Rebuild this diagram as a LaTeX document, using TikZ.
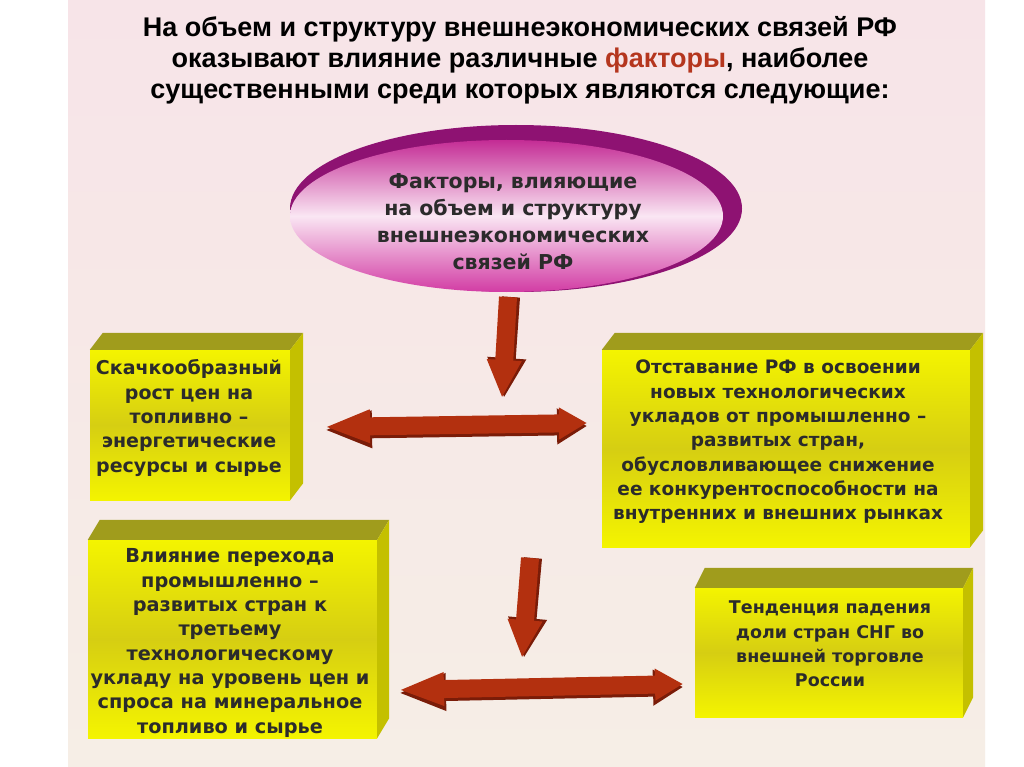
\documentclass[tikz,border=0pt]{standalone}
\usepackage{fontspec}
\setmainfont{DejaVu Sans}
\newfontfamily\titlefont{Liberation Sans}
\usetikzlibrary{shapes.geometric,arrows.meta,calc}
\definecolor{slidetop}{HTML}{F7E4E8}
\definecolor{slidebot}{HTML}{F6EEE6}
\definecolor{boxyel}{HTML}{F4F400}
\definecolor{boxmid}{HTML}{D6CE12}
\definecolor{boxtop}{HTML}{A09C1C}
\definecolor{boxside}{HTML}{C4C000}
\definecolor{arrowred}{HTML}{B3300F}
\definecolor{arrowdark}{HTML}{7A1C08}
\definecolor{txt}{HTML}{2B2B2B}
\definecolor{facred}{HTML}{B5361E}
\definecolor{ellrim}{HTML}{8E1272}
\definecolor{elltop}{HTML}{C42C95}
\definecolor{ellmid}{HTML}{FAE6F3}
\definecolor{ellbot}{HTML}{D23CA4}
\tikzset{
  titlestyle/.style={font=\titlefont\bfseries\fontsize{27}{31}\selectfont, text=black, align=center, inner sep=0pt},
  elltext/.style={font=\bfseries\fontsize{20.5}{27}\selectfont, text=txt, align=center, inner sep=0pt},
  boxtext/.style={font=\bfseries\fontsize{#1}{24.3}\selectfont, text=txt, align=center, inner sep=0pt},
  frontface/.style={draw=none, rectangle, inner sep=0pt, top color=boxyel, bottom color=boxyel, middle color=boxmid},
  topface/.style={fill=boxtop},
  sideface/.style={fill=boxside},
  fatarrow/.style={line width=18pt, arrowred},
  fatshadow/.style={line width=18pt, arrowdark},
}
\newcommand{\boxfaces}[3]{%
  \fill[topface] (#1.north west) -- ++(#2,-#3) -- ($(#1.north east)+(#2,-#3)$) -- (#1.north east) -- cycle;
  \fill[sideface] (#1.north east) -- ++(#2,-#3) -- ($(#1.south east)+(#2,-#3)$) -- (#1.south east) -- cycle;
}
\begin{document}
\begin{tikzpicture}[x=1pt,y=-1pt]
\useasboundingbox (0,0) rectangle (1024,767);
\fill[white] (0,0) rectangle (1024,767);
\shade[top color=slidetop,bottom color=slidebot] (68,0) rectangle (985,767);

% title
\node[titlestyle] (title) at (520,60) {На объем и структуру внешнеэкономических связей РФ\\ оказывают влияние различные \textcolor{facred}{факторы}, наиболее\\ существенными среди которых являются следующие:};

% ellipse
\fill[ellrim] (516,208.5) ellipse [x radius=226, y radius=83.5];
\node[ellipse, draw=none, minimum width=433pt, minimum height=152pt, inner sep=0pt, top color=elltop, bottom color=ellbot, middle color=ellmid] (fac) at (506.5,216) {};
\node[elltext] (factext) at (513,222) {Факторы, влияющие\\ на объем и структуру\\ внешнеэкономических\\ связей РФ};

% boxes
\node[frontface, minimum width=200pt, minimum height=150pt] (b1) at (190,425) {};
\boxfaces{b1}{13}{17}
\node[boxtext=19] (t1) at (189,418) {Скачкообразный\\ рост цен на\\ топливно --\\ энергетические\\ ресурсы и сырье};

\node[frontface, minimum width=368pt, minimum height=197pt] (b2) at (786,448.5) {};
\boxfaces{b2}{13}{17}
\node[boxtext=18.5] (t2) at (778,442) {Отставание РФ в освоении\\ новых технологических\\ укладов от промышленно --\\ развитых стран,\\ обусловливающее снижение\\ ее конкурентоспособности на\\ внутренних и внешних рынках};

\node[frontface, minimum width=289pt, minimum height=198pt] (b3) at (232.5,639) {};
\boxfaces{b3}{12}{20}
\node[boxtext=19.3] (t3) at (230,643) {Влияние перехода\\ промышленно --\\ развитых стран к\\ третьему\\ технологическому\\ укладу на уровень цен и\\ спроса на минеральное\\ топливо и сырье};

\node[frontface, minimum width=268pt, minimum height=129pt] (b4) at (829,652.5) {};
\boxfaces{b4}{10}{20}
\node[boxtext=17.5] (t4) at (830,644) {Тенденция падения\\ доли стран СНГ во\\ внешней торговле\\ России};

% arrows
\coordinate (d1s) at (508,297);
\coordinate (d1e) at (502,398);
\coordinate (h1l) at (324,427);
\coordinate (h1r) at (587,423);
\coordinate (d2s) at (530,558);
\coordinate (d2e) at (522,658);
\coordinate (h2l) at (398,690);
\coordinate (h2r) at (683,684);

\draw[fatshadow, -{Triangle[length=40pt,width=36pt]}] ($(d1s)+(3,0)$) -- ($(d1e)+(2,0)$);
\draw[fatarrow, -{Triangle[length=38pt,width=32pt]}] (d1s) -- (d1e);
\draw[fatshadow, {Triangle[length=48pt,width=34pt]}-{Triangle[length=30pt,width=34pt]}] ($(h1l)+(0,3)$) -- ($(h1r)+(0,3)$);
\draw[fatarrow, {Triangle[length=46pt,width=30pt]}-{Triangle[length=28pt,width=30pt]}] (h1l) -- (h1r);

\draw[fatshadow, -{Triangle[length=40pt,width=36pt]}] ($(d2s)+(3,0)$) -- ($(d2e)+(2,0)$);
\draw[fatarrow, -{Triangle[length=38pt,width=32pt]}] (d2s) -- (d2e);
\draw[fatshadow, {Triangle[length=48pt,width=34pt]}-{Triangle[length=30pt,width=34pt]}] ($(h2l)+(0,3)$) -- ($(h2r)+(0,3)$);
\draw[fatarrow, {Triangle[length=46pt,width=30pt]}-{Triangle[length=28pt,width=30pt]}] (h2l) -- (h2r);
\end{tikzpicture}
\end{document}
